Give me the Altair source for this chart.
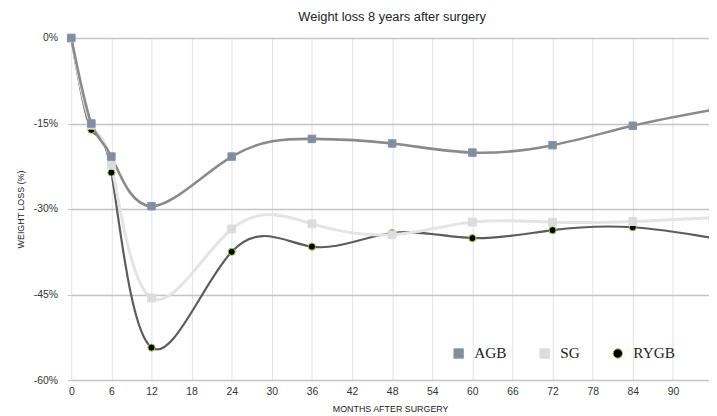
import altair as alt
import pandas as pd

months = [0, 3, 6, 12, 24, 36, 48, 60, 72, 84, 96]
agb = [0, -15.0, -20.8, -29.5, -20.8, -17.7, -18.5, -20.1, -18.8, -15.4, -12.6]
sg = [0, -15.3, -22.3, -45.6, -33.5, -32.6, -34.5, -32.3, -32.3, -32.2, -31.5]
rygb = [0, -16.1, -23.6, -54.3, -37.5, -36.6, -34.2, -35.1, -33.7, -33.2, -35.1]
series_names = ["AGB", "SG", "RYGB"]
x_ticks = [0, 6, 12, 18, 24, 30, 36, 42, 48, 54, 60, 66, 72, 78, 84, 90, 96]
y_ticks = [0, -15, -30, -45, -60]

# rows listed so that AGB is drawn last (on top), as in the original
rows = []
for name, vals in [("RYGB", rygb), ("SG", sg), ("AGB", agb)]:
    for m, v in zip(months, vals):
        rows.append({"month": m, "loss": v, "series": name})
df = pd.DataFrame(rows)

# Scales without a legend use a differently ordered domain so that Vega-Lite
# does not merge them (and their disabled legend) into the visible legend.
line_order = ["RYGB", "SG", "AGB"]
width_order = ["SG", "AGB", "RYGB"]
size_order = ["RYGB", "AGB", "SG"]

x_enc = alt.X(
    "month:Q",
    scale=alt.Scale(domain=[0, 95.4], nice=False, zero=False),
    axis=alt.Axis(
        values=x_ticks,
        title="MONTHS AFTER SURGERY",
        labelPadding=7,
        labelFlush=False,
        ticks=False,
        titlePadding=7,
        gridColor="#e2e2e2",
        gridWidth=1,
    ),
)
y_enc = alt.Y(
    "loss:Q",
    scale=alt.Scale(domain=[-60, 0], nice=False),
    axis=alt.Axis(
        values=y_ticks,
        labelExpr="datum.value + '%'",
        title="WEIGHT LOSS (%)",
        tickSize=4,
        tickColor="#c4c4c4",
        labelPadding=10,
        titlePadding=8,
        gridColor="#c4c4c4",
        gridWidth=1.5,
    ),
)

legend = alt.Legend(
    title=None,
    orient="none",
    legendX=384,
    legendY=311,
    direction="horizontal",
    labelFont="Liberation Serif",
    labelFontSize=15.5,
    labelColor="#222222",
    symbolSize=90,
    symbolStrokeWidth=1,
    labelOffset=8,
    columnPadding=30,
)

lines = alt.Chart(df).mark_line(interpolate="natural").encode(
    x=x_enc,
    y=y_enc,
    color=alt.Color(
        "series:N",
        scale=alt.Scale(domain=line_order, range=["#5c5c5c", "#e4e4e4", "#8a8a8a"]),
        legend=None,
    ),
    strokeWidth=alt.StrokeWidth(
        "series:N",
        scale=alt.Scale(domain=width_order, range=[3, 2.2, 2.2]),
        legend=None,
    ),
    order=alt.Order("month:Q"),
)

points = alt.Chart(df).mark_point(filled=True, opacity=1).encode(
    x=alt.X("month:Q"),
    y=alt.Y("loss:Q"),
    shape=alt.Shape(
        "series:N",
        scale=alt.Scale(domain=series_names, range=["square", "square", "circle"]),
        legend=legend,
    ),
    fill=alt.Fill(
        "series:N",
        scale=alt.Scale(domain=series_names, range=["#8c8c8c", "#dcdcdc", "#000000"]),
        legend=legend,
    ),
    stroke=alt.Stroke(
        "series:N",
        scale=alt.Scale(domain=series_names, range=["#6f97d6", "#dcdcdc", "#a6d13a"]),
        legend=legend,
    ),
    size=alt.Size(
        "series:N",
        scale=alt.Scale(domain=size_order, range=[52, 64, 70]),
        legend=None,
    ),
    strokeWidth=alt.value(1),
)

chart = (
    alt.layer(lines, points)
    .properties(
        width=645,
        height=346,
        title=alt.TitleParams(
            "Weight loss 8 years after surgery",
            font="Liberation Sans",
            fontSize=13,
            fontWeight="normal",
            color="#222222",
            anchor="middle",
            offset=8,
            dx=2,
        ),
        autosize=alt.AutoSizeParams(type="none"),
        padding={"left": 64, "top": 28, "right": 0, "bottom": 34},
    )
    .configure_view(stroke=None)
    .configure_axis(
        labelFont="Liberation Sans",
        labelFontSize=10.5,
        labelColor="#333333",
        titleFont="Liberation Sans",
        titleFontSize=9,
        titleFontWeight="normal",
        titleColor="#222222",
        domain=False,
    )
)

chart.save("out.html", embed_options={"renderer": "svg", "actions": False})
